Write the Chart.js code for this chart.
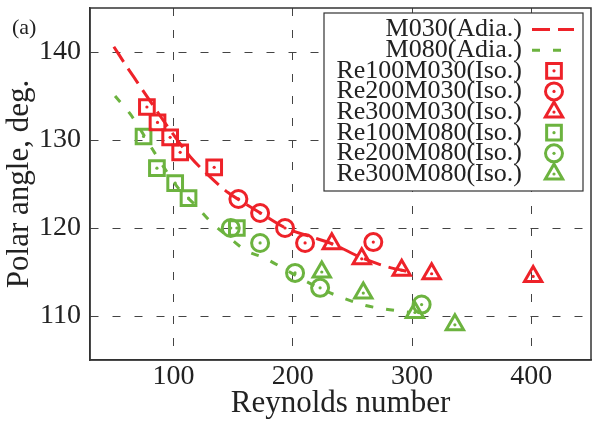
<!DOCTYPE html>
<html>
<head>
<meta charset="utf-8">
<script src="https://cdn.jsdelivr.net/npm/chart.js@4.4.1/dist/chart.umd.min.js"></script>
<style>
  html, body { margin: 0; padding: 0; background: #fff; }
  #wrap { width: 593px; height: 421px; }
</style>
</head>
<body>
<div id="wrap"><canvas id="polarChart"></canvas></div>
<script>
// axis ticks
const xTicks = [100, 200, 300, 400];
const yTicks = [110, 120, 130, 140];

// adiabatic curves (dashed lines)
const adia030Re = [50, 60, 70, 80, 90, 100, 114, 130, 146, 155, 173, 194, 213, 233, 258, 279, 298];
const adia030Ang = [140.6, 138.5, 136.5, 134.5, 132.5, 130.6, 128.1, 125.9, 124.0, 123.2, 121.7, 120.0, 119.1, 118.2, 116.6, 115.6, 115.0];
const adia080Re = [51, 64, 84, 103, 119, 132, 146, 160, 176, 191, 209, 225, 243, 261, 277, 298];
const adia080Ang = [135.0, 132.9, 128.6, 124.7, 122.5, 120.6, 119.0, 117.5, 116.6, 115.5, 114.1, 113.0, 112.0, 111.2, 110.8, 110.4];

// isothermal runs (markers)
const re100m030Re = [77.7, 86.6, 97.2, 105.6, 134.1];
const re100m030Ang = [133.75, 132.0, 130.3, 128.6, 126.9];
const re200m030Re = [154.4, 172.6, 193.5, 210.3, 267.5];
const re200m030Ang = [123.3, 121.7, 120.0, 118.3, 118.4];
const re300m030Re = [232.7, 257.8, 291.3, 316.4, 401.5];
const re300m030Ang = [118.2, 116.5, 115.2, 114.8, 114.5];
const re100m080Re = [74.9, 86.1, 101.4, 112.6, 153.1];
const re100m080Ang = [130.4, 126.8, 125.1, 123.4, 120.0];
const re200m080Re = [148.0, 172.6, 201.9, 222.9, 308.0];
const re200m080Ang = [120.0, 118.3, 114.9, 113.2, 111.3];
const re300m080Re = [224.3, 259.1, 302.4, 335.9];
const re300m080Ang = [115.0, 112.6, 110.4, 109.0];

const RED = '#ee2229';
const GREEN = '#6cb33f';
const INK = '#222';
const FONT = "'Liberation Serif', 'Times New Roman', serif";

function pts(xs, ys) {
  return xs.map((x, i) => ({ x: x, y: ys[i] }));
}

function lineSet(label, xs, ys, color, dash) {
  return {
    label: label,
    data: pts(xs, ys),
    showLine: true,
    borderColor: color,
    backgroundColor: color,
    borderWidth: 3,
    borderDash: dash,
    pointRadius: 0,
    pointHoverRadius: 0,
    cubicInterpolationMode: 'monotone',
    fill: false,
    order: 2
  };
}

function markSet(label, xs, ys, color, style, r) {
  return {
    label: label,
    data: pts(xs, ys),
    showLine: false,
    pointStyle: style,
    pointRadius: r,
    pointHoverRadius: r,
    pointBorderWidth: 3,
    borderColor: color,
    pointBorderColor: color,
    backgroundColor: 'rgba(0,0,0,0)',
    pointBackgroundColor: 'rgba(0,0,0,0)',
    markerDot: true,
    order: 1
  };
}

// fixed axis sizes, no extra label padding
function fixSize(scale, w, h) {
  if (w) scale.width = w;
  if (h) scale.height = h;
  scale.paddingTop = 0;
  scale.paddingBottom = 0;
  scale.paddingLeft = 0;
  scale.paddingRight = 0;
}

// little dot in the middle of every marker
const centerDots = {
  id: 'centerDots',
  afterDatasetsDraw(chart) {
    const ctx = chart.ctx;
    chart.data.datasets.forEach((ds, i) => {
      if (!ds.markerDot) return;
      ctx.save();
      ctx.fillStyle = ds.borderColor;
      chart.getDatasetMeta(i).data.forEach(p => {
        ctx.beginPath();
        ctx.arc(p.x, p.y, 1.6, 0, Math.PI * 2);
        ctx.fill();
      });
      ctx.restore();
    });
  }
};

// closes the plot box on top and right, plus the "(a)" tag
const frameBox = {
  id: 'frameBox',
  afterDatasetsDraw(chart) {
    const ca = chart.chartArea;
    const ctx = chart.ctx;
    ctx.save();
    ctx.strokeStyle = '#333';
    ctx.lineWidth = 1.5;
    ctx.strokeRect(ca.left, ca.top, ca.right - ca.left, ca.bottom - ca.top);
    ctx.fillStyle = INK;
    ctx.font = '22px ' + FONT;
    ctx.textAlign = 'left';
    ctx.textBaseline = 'middle';
    ctx.fillText('(a)', 12, 28);
    ctx.restore();
  }
};

function drawMarker(ctx, style, x, y, r) {
  ctx.beginPath();
  if (style === 'rect') {
    const s = r * Math.SQRT1_2;
    ctx.rect(x - s, y - s, 2 * s, 2 * s);
  } else if (style === 'circle') {
    ctx.arc(x, y, r, 0, Math.PI * 2);
  } else {
    let a = 0;
    ctx.moveTo(x + Math.sin(a) * r, y - Math.cos(a) * r);
    a += Math.PI * 2 / 3;
    ctx.lineTo(x + Math.sin(a) * r, y - Math.cos(a) * r);
    a += Math.PI * 2 / 3;
    ctx.lineTo(x + Math.sin(a) * r, y - Math.cos(a) * r);
    ctx.closePath();
  }
  ctx.stroke();
  ctx.beginPath();
  ctx.arc(x, y, 1.6, 0, Math.PI * 2);
  ctx.fill();
}

// legend: text right-aligned, sample on the right
const boxLegend = {
  id: 'boxLegend',
  afterDraw(chart) {
    const ca = chart.chartArea;
    const ctx = chart.ctx;
    const left = ca.right - 267, top = ca.top + 5;
    const w = 259, h = 178;
    const textRight = left + 198;
    const sampleX = left + 230;
    ctx.save();
    ctx.fillStyle = '#fff';
    ctx.fillRect(left, top, w, h);
    ctx.strokeStyle = '#333';
    ctx.lineWidth = 1.2;
    ctx.strokeRect(left, top, w, h);
    ctx.font = '26px ' + FONT;
    ctx.textAlign = 'right';
    ctx.textBaseline = 'middle';
    chart.data.datasets.forEach((ds, i) => {
      const y = top + 16.5 + i * 20.64;
      ctx.fillStyle = INK;
      ctx.fillText(ds.label, textRight, y);
      ctx.strokeStyle = ds.borderColor;
      ctx.fillStyle = ds.borderColor;
      ctx.lineWidth = 3;
      if (ds.showLine) {
        ctx.setLineDash(ds.borderDash);
        ctx.beginPath();
        ctx.moveTo(sampleX - 22, y);
        ctx.lineTo(sampleX + 20, y);
        ctx.stroke();
        ctx.setLineDash([]);
      } else {
        drawMarker(ctx, ds.pointStyle, sampleX, y, ds.pointRadius);
      }
    });
    ctx.restore();
  }
};

new Chart(document.getElementById('polarChart'), {
  type: 'scatter',
  data: {
    datasets: [
      lineSet('M030(Adia.)', adia030Re, adia030Ang, RED, [18, 8]),
      lineSet('M080(Adia.)', adia080Re, adia080Ang, GREEN, [8, 13]),
      markSet('Re100M030(Iso.)', re100m030Re, re100m030Ang, RED, 'rect', 10.4),
      markSet('Re200M030(Iso.)', re200m030Re, re200m030Ang, RED, 'circle', 8.5),
      markSet('Re300M030(Iso.)', re300m030Re, re300m030Ang, RED, 'triangle', 10),
      markSet('Re100M080(Iso.)', re100m080Re, re100m080Ang, GREEN, 'rect', 10.4),
      markSet('Re200M080(Iso.)', re200m080Re, re200m080Ang, GREEN, 'circle', 8.5),
      markSet('Re300M080(Iso.)', re300m080Re, re300m080Ang, GREEN, 'triangle', 10)
    ]
  },
  options: {
    responsive: true,
    maintainAspectRatio: false,
    animation: false,
    layout: { autoPadding: false, padding: { left: 0, right: 2, top: 8, bottom: 0 } },
    plugins: {
      legend: { display: false },
      tooltip: { enabled: false }
    },
    scales: {
      x: {
        type: 'linear',
        min: 30,
        max: 450,
        afterBuildTicks: scale => { scale.ticks = xTicks.map(v => ({ value: v })); },
        afterFit: scale => fixSize(scale, 0, 61),
        grid: { color: '#444', lineWidth: 1, drawTicks: false },
        border: { display: true, color: '#333', width: 1.5, dash: [8, 14] },
        ticks: {
          color: INK,
          padding: 0,
          maxRotation: 0,
          autoSkip: false,
          font: { family: FONT, size: 28 }
        },
        title: {
          display: true,
          text: 'Reynolds number',
          color: INK,
          padding: { top: 0, bottom: 1.5 },
          font: { family: FONT, size: 31, lineHeight: 1 }
        }
      },
      y: {
        type: 'linear',
        min: 105,
        max: 145,
        afterBuildTicks: scale => { scale.ticks = yTicks.map(v => ({ value: v })); },
        afterFit: scale => fixSize(scale, 90, 0),
        grid: { color: '#444', lineWidth: 1, drawTicks: false },
        border: { display: true, color: '#333', width: 1.5, dash: [8, 14] },
        ticks: {
          color: INK,
          padding: 9,
          autoSkip: false,
          font: { family: FONT, size: 28 }
        },
        title: {
          display: true,
          text: 'Polar angle, deg.',
          color: INK,
          padding: { top: 4, bottom: 0 },
          font: { family: FONT, size: 31, lineHeight: 1 }
        }
      }
    }
  },
  plugins: [centerDots, frameBox, boxLegend]
});
</script>
</body>
</html>
